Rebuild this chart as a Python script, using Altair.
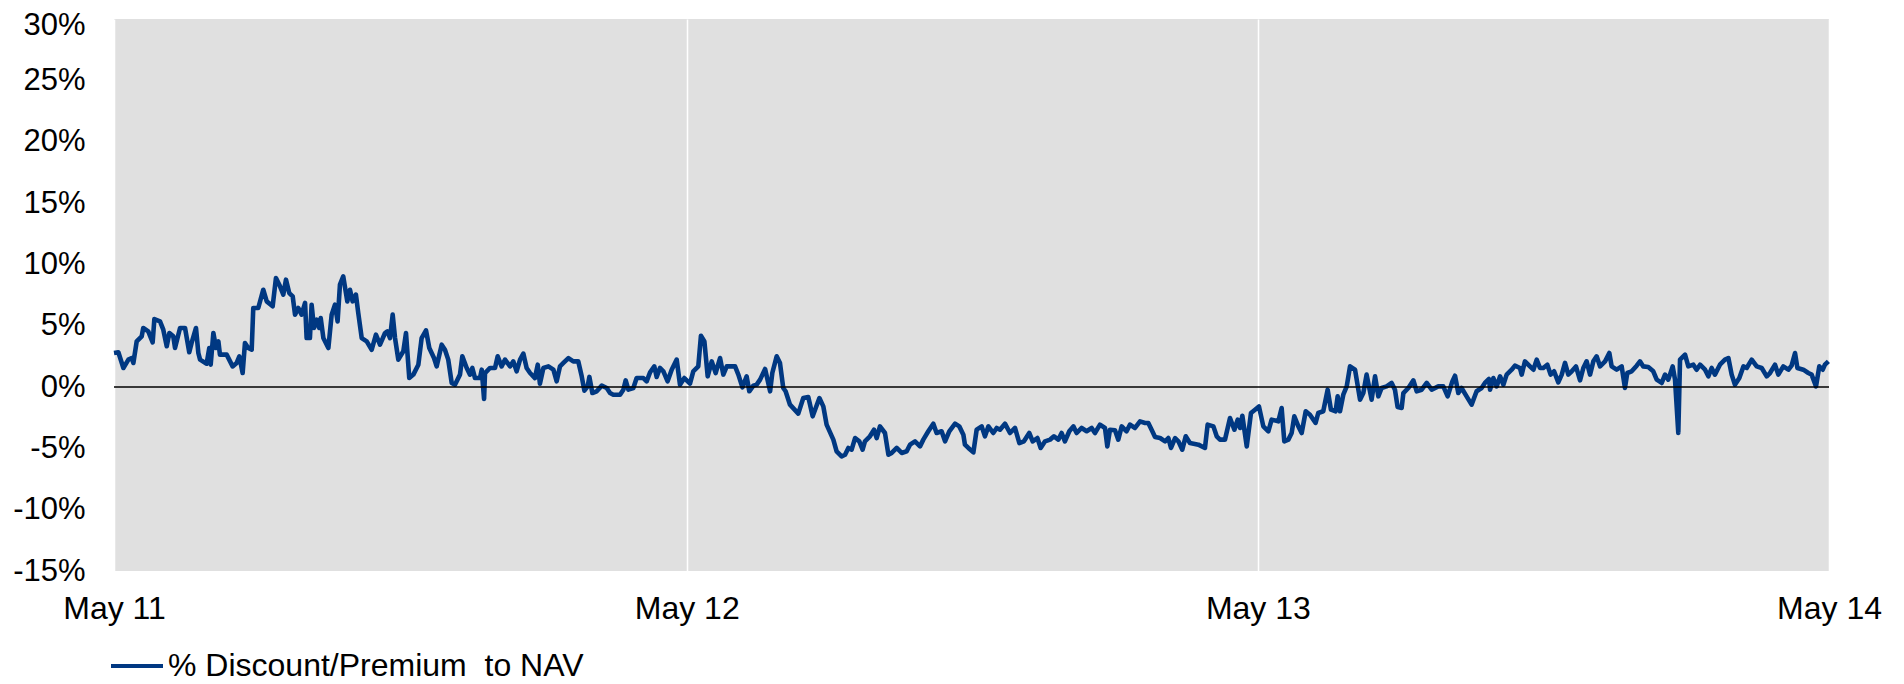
import altair as alt
import pandas as pd

# day offsets from 1 May 2011 and % discount/premium values
days = [
    0.0, 2.8, 6.0, 9.2, 11.3, 12.4, 14.5, 17.7, 18.7, 21.9, 24.7, 25.8, 29.4, 31.5, 33.7, 35.4, 37.9, 39.0,
    42.2, 45.4, 48.1, 49.6, 52.4, 53.9, 55.0, 59.2, 60.9, 61.8, 63.5, 65.2, 66.7, 67.7, 72.0, 75.8, 78.4,
    80.1, 82.2, 83.7, 85.8, 88.0, 89.0, 92.2, 95.4, 97.6, 101.4, 103.5, 106.1, 108.2, 109.9, 112.0, 114.2,
    115.7, 117.8, 119.9, 122.1, 123.1, 125.2, 126.3, 127.8, 129.5, 131.2, 132.1, 133.8, 137.0, 139.1, 141.2,
    142.9, 144.4, 146.5, 149.1, 150.8, 152.5, 154.6, 156.1, 158.3, 161.5, 164.7, 167.4, 170.0, 173.2, 174.7,
    176.4, 178.1, 179.6, 181.7, 184.9, 186.6, 188.7, 191.3, 194.5, 196.6, 199.4, 201.5, 204.5, 206.2, 209.4,
    211.5, 213.6, 215.8, 217.9,
    221.1, 222.6, 225.4, 227.5, 229.0, 230.7, 233.9, 235.0, 236.5, 237.1, 240.3, 243.5, 245.2, 247.7, 249.9,
    253.1, 255.2, 257.3, 259.5, 261.6, 263.7, 265.9, 269.0, 270.8, 272.2, 274.4, 277.6, 280.8, 282.9, 285.0,
    287.2, 290.4, 293.5, 296.7, 298.9, 300.6, 302.7, 303.8, 305.7, 308.5, 311.7, 314.9, 317.0, 319.1, 323.4,
    325.5, 327.0, 328.7, 331.9, 334.0, 338.3, 340.4, 342.6, 345.3, 346.8, 348.9, 351.1, 353.8, 356.4, 359.6,
    361.7, 364.5, 368.1, 370.2, 373.4, 375.1, 377.3, 379.4, 382.0, 384.5, 387.3, 389.4, 391.6, 396.9, 399.0,
    401.6, 404.3, 406.0, 408.6, 410.7, 412.9, 416.1, 419.3, 420.7, 423.5, 425.6, 427.7, 429.2, 432.0, 437.3,
    440.5, 443.7, 446.5, 450.8, 453.3, 455.4, 459.7, 461.8, 465.0, 467.2, 469.3, 471.4, 473.6, 476.3, 478.4,
    479.9, 483.1, 485.7, 487.4, 489.5, 492.7, 494.9, 497.0, 500.2, 503.4, 506.6, 508.7, 511.9, 515.1, 517.2,
    520.4, 523.6, 525.7, 528.9, 531.1, 533.8, 537.5, 540.2, 542.8, 543.8, 546.0, 549.2, 551.3, 554.5, 556.6,
    558.8, 561.9, 564.1, 566.2, 569.4, 572.6, 575.8, 578.6, 581.5, 584.9, 587.1, 590.1, 592.2, 595.0, 598.2,
    600.7, 603.5, 605.6, 607.7, 610.5, 613.1, 615.2, 618.4, 621.6, 624.8, 626.9, 630.1, 633.3, 634.8, 636.5,
    639.7, 641.8, 644.0, 647.1, 649.3, 652.5, 655.7, 658.9,
    661.0, 663.1, 665.3, 668.5, 671.7, 673.8, 675.5, 678.1, 680.2, 682.7, 684.9, 687.6, 693.0, 697.2, 698.9,
    702.6, 704.7, 706.8, 710.0, 713.2, 716.0, 718.1, 719.6, 721.1, 723.9, 726.6, 729.2, 731.7, 734.5, 737.7,
    739.8, 744.1, 746.2, 747.9, 750.5, 752.6, 754.3, 756.9, 759.0, 761.6, 764.3, 767.9, 769.6, 772.8, 775.6,
    777.7, 780.7, 782.0, 783.5, 785.6, 787.8, 789.9, 793.1, 796.3, 798.4, 800.5, 803.7, 805.9, 808.0, 810.1,
    813.3, 816.5, 818.6, 820.3, 822.9, 824.0, 827.2, 830.4, 832.5, 835.7, 838.9, 842.1, 846.3, 849.5, 852.3,
    855.3, 857.0, 859.1, 861.2, 864.4, 867.6, 870.8, 874.0, 876.1, 878.7,
    879.4, 881.5, 883.6, 885.8, 887.9, 890.0, 893.2, 895.3, 898.5, 899.6, 901.7, 904.9, 907.1, 909.2, 911.3,
    913.4, 916.0, 918.1, 920.3, 923.0, 925.2, 927.3, 929.4, 931.6, 934.3, 936.9, 939.0, 941.1, 943.3, 945.4,
    947.5, 949.7, 952.9, 955.6, 957.1, 960.3, 963.5, 965.6, 967.1, 969.9, 973.1, 975.2, 977.3, 980.5, 983.7,
    985.9, 989.1, 991.2, 993.3, 996.1, 997.6, 999.7, 1000.8, 1004.0, 1006.1, 1009.3, 1011.4, 1013.6, 1016.8,
    1018.9, 1021.0, 1023.1, 1026.3, 1029.5, 1031.7, 1033.8, 1035.9, 1038.7, 1041.3, 1043.4, 1046.6, 1049.8,
    1053.0, 1056.2, 1058.3, 1061.5, 1063.6, 1066.8, 1070.0, 1072.1, 1074.3, 1075.8, 1079.6, 1082.8, 1084.9,
    1087.7, 1089.8, 1092.0, 1093.4, 1095.6,
]

values = [
    2.77, 2.83, 1.55, 2.23, 2.36, 1.96, 3.72, 4.13, 4.81, 4.54, 3.64, 5.54, 5.35, 4.67, 3.32, 4.40, 4.13, 3.18,
    4.81, 4.81, 2.83, 3.59, 4.81, 2.77, 2.23, 1.90, 3.18, 1.82, 4.40, 3.18, 3.72, 2.64, 2.64, 1.68, 1.96,
    2.50, 1.14, 3.59, 3.18, 3.04, 6.44, 6.44, 7.93, 6.98, 6.58, 8.89, 8.21, 7.53, 8.75, 7.66, 7.39,
    5.90, 6.44, 5.90, 6.85, 3.99, 3.99, 6.71, 4.81, 5.49, 4.81, 5.62, 3.99, 3.18, 5.90, 6.71,
    5.35, 8.34, 9.02, 6.98, 7.93, 6.98, 7.53, 6.03, 3.99, 3.72, 3.04, 4.27, 3.45, 4.40, 4.54,
    3.99, 5.90, 3.99, 2.23, 2.91, 4.40, 0.73, 1.01, 1.82, 3.99, 4.62, 3.18, 2.36, 1.68, 3.45,
    3.04, 2.23, 0.33, 0.19,
    1.01, 2.50, 1.55, 1.01, 1.55, 0.73, 0.73, 1.41, -0.98, 1.14, 1.55, 1.55, 2.50, 1.68, 2.23,
    1.68, 2.09, 1.28, 2.23, 2.72, 1.55, 1.14, 0.73, 1.82, 0.27, 1.55, 1.68, 1.41, 0.46, 1.68,
    1.96, 2.36, 2.09, 2.09, 0.87, -0.30, 0.05, 0.82, -0.49, -0.35, 0.11, -0.08, -0.49, -0.63, -0.63,
    -0.22, 0.54, -0.22, -0.08, 0.73, 0.73, 0.46, 1.20, 1.68, 0.82, 1.55, 1.28, 0.46, 1.41, 2.23,
    0.19, 0.73, 0.27, 1.28, 1.68, 4.18, 3.72, 0.87, 2.09, 1.14, 2.36, 1.01, 1.68, 1.68, 1.01,
    -0.03, 0.87, -0.35, 0.11, 0.19, 0.60, 1.47, -0.35, 1.14, 2.50, 1.96, -0.08, -0.35, -1.44, -2.17,
    -0.90, -0.82, -2.39, -0.90, -1.58, -3.07, -4.29, -5.24, -5.65, -5.52, -4.97, -5.11, -4.16, -4.43, -5.11,
    -4.43, -4.02, -3.48, -4.16, -3.21, -3.75, -5.52, -5.38, -4.97, -5.38, -5.24, -4.70, -4.43, -4.84, -4.29,
    -3.61, -2.99, -3.75, -3.61, -4.43, -3.61, -2.99, -3.21, -3.89, -4.70, -4.97, -5.33, -3.48, -3.21, -4.02,
    -3.21, -3.75, -3.34, -3.48, -2.99, -3.75, -3.34, -4.57, -4.43, -3.75, -4.43, -4.16, -4.97, -4.43, -4.29,
    -4.02, -4.29, -3.75, -4.43, -3.61, -3.21, -3.75, -3.34, -3.61, -3.34, -3.75, -3.07, -3.34, -4.84, -3.48,
    -3.53, -4.29, -3.21, -3.61, -3.07, -3.34, -2.80, -2.93,
    -2.93, -3.48, -4.08, -4.16, -4.43, -4.16, -4.97, -4.16, -4.43, -5.11, -4.02, -4.57, -4.70, -4.97, -3.07,
    -3.21, -4.02, -4.29, -4.29, -2.53, -3.48, -2.66, -3.34, -2.34, -4.84, -2.12, -1.85, -1.58, -3.21, -3.61,
    -2.66, -2.80, -1.71, -4.43, -4.29, -3.75, -2.39, -3.21, -3.75, -1.98, -2.26, -2.93, -2.12, -1.98, -0.22,
    -1.85, -1.98, -0.76, -1.98, -0.63, 0.05, 1.68, 1.41, -1.03, -0.49, 1.01, -1.03, 0.87, -0.76, -0.08,
    0.05, 0.33, -0.22, -1.63, -1.71, -0.49, -0.08, 0.54, -0.35, -0.22, 0.33, -0.22, 0.05, 0.05, -0.76,
    0.46, 0.92, -0.49, -0.08, -0.76, -1.44, -0.35, -0.08, 0.33, 0.65,
    -0.22, 0.73, 0.05, 0.87, 0.19, 1.01, 1.41, 1.74, 1.55, 1.01, 2.09, 1.68, 1.41, 2.23, 1.55,
    1.55, 1.82, 1.01, 1.28, 0.38, 1.01, 1.96, 1.01, 1.28, 1.68, 0.54, 1.55, 2.09, 1.01, 2.09,
    2.50, 1.68, 2.09, 2.77, 1.68, 1.41, 1.68, -0.08, 1.14, 1.28, 1.74, 2.09, 1.68, 1.63, 1.28,
    0.60, 0.33, 1.01, 0.60, 1.68, 0.60, -3.75, 2.23, 2.64, 1.68, 1.82, 1.41, 1.82, 1.41,
    0.87, 1.55, 1.01, 1.82, 2.23, 2.36, 1.01, 0.19, 0.73, 1.68, 1.55, 2.23, 1.68,
    1.55, 0.87, 1.14, 1.82, 1.01, 1.68, 1.41, 1.74, 2.77, 1.55, 1.41, 1.14, 1.01,
    0.05, 1.68, 1.41, 1.82, 2.09,
]

series_name = "% Discount/Premium\u00a0 to NAV"
y_ticks = [-15, -10, -5, 0, 5, 10, 15, 20, 25, 30]
x_tick_years = [2011, 2012, 2013, 2014]

start = pd.Timestamp("2011-05-01")
df = pd.DataFrame({
    "date": start + pd.to_timedelta(days, unit="D"),
    "value": values,
    "series": series_name,
})
zero_df = pd.DataFrame({"value": [0]})

FONT = "Liberation Sans"
x_dates = [alt.DateTime(year=y, month=5, date=1) for y in x_tick_years]

y_scale = alt.Scale(domain=[y_ticks[0], y_ticks[-1]], nice=False, zero=False)
y_axis = alt.Axis(
    values=y_ticks, labelExpr="datum.value + '%'", title=None, grid=False,
    domain=False, ticks=False, tickSize=0, labelPadding=29, labelFlush=False,
    labelFont=FONT, labelFontSize=31, labelColor="black",
    labelOffset={"condition": {"test": f"datum.value == {y_ticks[-1]}", "value": 6}, "value": 0},
)

x_enc = alt.X(
    "date:T",
    scale=alt.Scale(domain=[x_dates[0], x_dates[-1]]),
    axis=alt.Axis(
        values=x_dates, format="%b %y", title=None, grid=True, gridColor="white",
        gridWidth=1.5, gridOpacity=1, domain=False, ticks=False, tickSize=0,
        labelPadding=22, labelFlush=False, labelOverlap=False,
        labelFont=FONT, labelFontSize=32, labelColor="black",
    ),
)

zero_rule = alt.Chart(zero_df).mark_rule(color="black", strokeWidth=1.3).encode(
    y=alt.Y("value:Q", scale=y_scale, axis=y_axis)
)

line = alt.Chart(df).mark_line(strokeWidth=4.6, strokeJoin="round").encode(
    x=x_enc,
    y=alt.Y("value:Q", scale=y_scale, axis=y_axis),
    color=alt.Color(
        "series:N",
        scale=alt.Scale(range=["#003882"]),
        legend=alt.Legend(
            title=None, orient="none", legendX=-5, legendY=619, symbolType="stroke",
            symbolSize=2704, symbolStrokeWidth=4, labelFont=FONT, labelFontSize=32,
            labelColor="black", labelLimit=2000, padding=0, labelOffset=3,
        ),
    ),
)

chart = alt.layer(line, zero_rule).properties(
    width=1715,
    height=552,
    padding={"left": 106, "top": 11, "right": 67, "bottom": 113},
    autosize=alt.AutoSizeParams(type="none"),
).configure_view(strokeWidth=0, fill="#E0E0E0")

chart.save("out.html", embed_options={"renderer": "svg", "actions": False})
